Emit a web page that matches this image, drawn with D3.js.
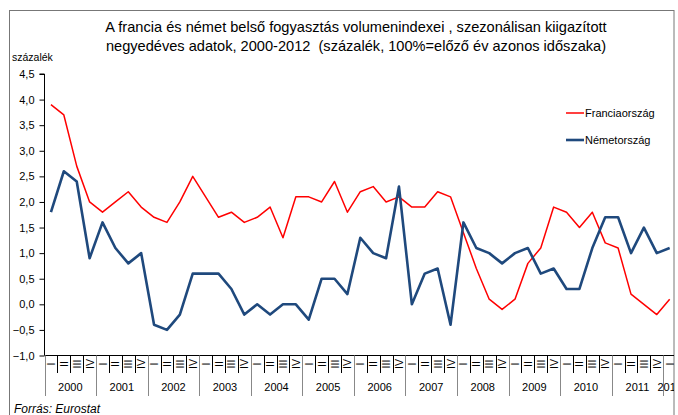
<!DOCTYPE html>
<html>
<head>
<meta charset="utf-8">
<script src="https://cdn.jsdelivr.net/npm/d3@7"></script>
<style>
  html, body { margin: 0; padding: 0; background: #fff; }
  svg { display: block; font-family: Arial, "Liberation Sans", sans-serif; }
</style>
</head>
<body>
<svg id="chart" width="678" height="415"></svg>
<script>
const years = ["2000","2001","2002","2003","2004","2005","2006","2007","2008","2009","2010","2011","2012"];
const quarterLabels = ["I","II","III","IV"];
const france = [3.9,3.7,2.7,2.0, 1.8,2.0,2.2,1.9, 1.7,1.6,2.0,2.5, 2.1,1.7,1.8,1.6,
                1.7,1.9,1.3,2.1, 2.1,2.0,2.4,1.8, 2.2,2.3,2.0,2.1, 1.9,1.9,2.2,2.1,
                1.4,0.7,0.1,-0.1, 0.1,0.8,1.1,1.9, 1.8,1.5,1.8,1.2, 1.1,0.2,0.0,-0.2, 0.1];
const germany = [1.8,2.6,2.4,0.9, 1.6,1.1,0.8,1.0, -0.4,-0.5,-0.2,0.6, 0.6,0.6,0.3,-0.2,
                 0.0,-0.2,0.0,0.0, -0.3,0.5,0.5,0.2, 1.3,1.0,0.9,2.3, 0.0,0.6,0.7,-0.4,
                 1.6,1.1,1.0,0.8, 1.0,1.1,0.6,0.7, 0.3,0.3,1.1,1.7, 1.7,1.0,1.5,1.0, 1.1];
const yTicks = [-1.0,-0.5,0.0,0.5,1.0,1.5,2.0,2.5,3.0,3.5,4.0,4.5];
const seriesNames = ["Franciaország","Németország"];
const titleLines = ["A francia és német belső fogyasztás volumenindexei , szezonálisan kiigazított",
                    "negyedéves adatok, 2000-2012  (százalék, 100%=előző év azonos időszaka)"];

(function () {
const categories = [];
years.forEach(yv => quarterLabels.forEach(q => categories.push(yv + "-" + q)));
categories.length = france.length; // 2000 I .. 2012 I

const svg = d3.select("#chart");
const pLeft = 44.5, pTop = 74, pBottom = 355.5, bandW = 12.89;
const pRight = pLeft + bandW * categories.length;
const clipRight = 674;

const x = d3.scaleBand().domain(categories).range([pLeft, pRight]).paddingInner(0).paddingOuter(0);
const y = d3.scaleLinear().domain([-1, 4.5]).range([pBottom, pTop]);

svg.append("defs").append("clipPath").attr("id","clip")
  .append("rect").attr("x",0).attr("y",0).attr("width",clipRight).attr("height",415);

// frame
svg.append("rect").attr("x",9.5).attr("y",10.5).attr("width",clipRight-9.5).attr("height",500)
  .attr("fill","none").attr("stroke","#777").attr("stroke-width",1);

// title
svg.append("g").selectAll("text").data(titleLines).join("text")
  .attr("x",356).attr("y",(d,i)=>32+i*19).attr("text-anchor","middle")
  .style("white-space","pre").attr("xml:space","preserve")
  .attr("font-size",14.6).attr("fill","#000").text(d=>d);

svg.append("text").attr("x",12).attr("y",61).attr("font-size",10.5).text("százalék");

// y axis
const fmt = d => d3.format(".1f")(d).replace(".", ",");
const yAxis = svg.append("g").attr("transform",`translate(${pLeft},0)`)
  .call(d3.axisLeft(y).tickValues(yTicks).tickFormat(fmt).tickSize(5).tickPadding(5));
yAxis.select(".domain").attr("stroke","#000").attr("d",`M-5,${pTop}H0V${pBottom}`);
yAxis.selectAll(".tick line").attr("stroke","#000");
yAxis.selectAll(".tick text").attr("font-size",11).attr("font-family","Arial, 'Liberation Sans', sans-serif").attr("fill","#000");

// x axis
const xg = svg.append("g").attr("clip-path","url(#clip)");
xg.append("line").attr("x1",pLeft).attr("x2",pRight).attr("y1",pBottom).attr("y2",pBottom)
  .attr("stroke","#000").attr("stroke-width",1.2);
categories.forEach((c,i) => {
  const x0 = x(c);
  const isYear = i % 4 === 0;
  xg.append("line").attr("x1",Math.round(x0)+0.5).attr("x2",Math.round(x0)+0.5)
    .attr("y1",pBottom).attr("y2",isYear ? 396 : 373)
    .attr("stroke", isYear ? "#888" : "#000").attr("stroke-width",1);
  const cx = x0 + x.bandwidth()/2;
  xg.append("text").attr("transform",`translate(${cx},364) rotate(-90)`)
    .attr("text-anchor","middle").attr("dominant-baseline","central")
    .attr("font-size",10.5).text(c.split("-")[1]);
});
xg.append("line").attr("x1",pRight).attr("x2",pRight).attr("y1",pBottom).attr("y2",373).attr("stroke","#000");
years.forEach(yr => {
  const idx = categories.indexOf(yr + "-I");
  const n = categories.filter(c=>c.startsWith(yr)).length;
  const cx = x(categories[idx]) + n*bandW/2;
  xg.append("text").attr("x",cx).attr("y",391).attr("text-anchor","middle")
    .attr("font-size",11).text(yr);
});

// lines
const line = d3.line().x((d,i)=>x(categories[i]) + x.bandwidth()/2).y(d=>y(d));
const plot = svg.append("g").attr("clip-path","url(#clip)");
plot.append("path").datum(france).attr("d",line).attr("fill","none")
  .attr("stroke","#ff0000").attr("stroke-width",1.5).attr("stroke-linejoin","round");
plot.append("path").datum(germany).attr("d",line).attr("fill","none")
  .attr("stroke","#1f497d").attr("stroke-width",2.6).attr("stroke-linejoin","round");

// legend
const legColors = ["#ff0000","#1f497d"], legW = [1.5,2.6];
seriesNames.forEach((s,i) => {
  const ly = 113 + i*27;
  svg.append("line").attr("x1",566).attr("x2",584).attr("y1",ly).attr("y2",ly)
    .attr("stroke",legColors[i]).attr("stroke-width",legW[i]);
  svg.append("text").attr("x",585).attr("y",ly+4).attr("font-size",11).text(s);
});

// source
svg.append("text").attr("x",14).attr("y",413).attr("font-size",12).attr("font-style","italic").text("Forrás: Eurostat");
})();
</script>
</body>
</html>
